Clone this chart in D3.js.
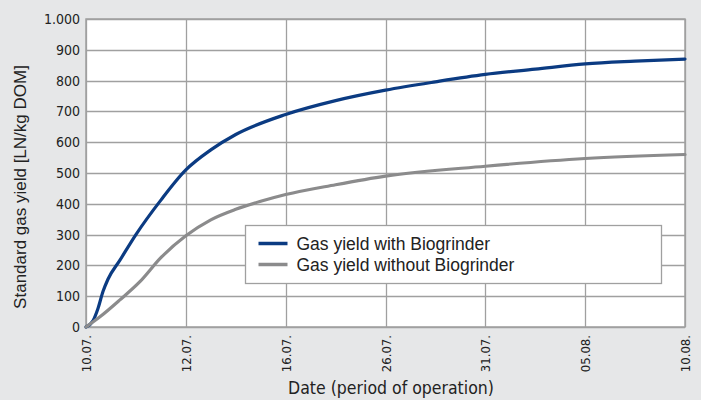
<!DOCTYPE html>
<html>
<head>
<meta charset="utf-8">
<script src="https://cdn.jsdelivr.net/npm/d3@7"></script>
<style>
  body { margin: 0; background: #e6e7e8; }
  svg { display: block; }
</style>
</head>
<body>
<svg id="chart" width="701" height="400"></svg>
<script>
// tick dates on the x axis (equally spaced)
const dates = ["10.07.", "12.07.", "16.07.", "26.07.", "31.07.", "05.08.", "10.08."];
const yTicks = [0, 100, 200, 300, 400, 500, 600, 700, 800, 900, 1000];

// [position along date axis (index), yield]
const withBiogrinder = [
    [0, 0], [0.07, 20], [0.12, 60], [0.17, 115], [0.22, 155], [0.34, 217],
    [0.5, 300], [0.75, 412], [1, 510], [1.25, 575], [1.5, 625], [2, 690],
    [2.5, 735], [3, 769], [3.5, 796], [4, 820], [4.5, 837], [5, 854],
    [5.5, 863], [6, 870]
];
const withoutBiogrinder = [
    [0, 0], [0.14, 33], [0.34, 88], [0.54, 147], [0.75, 225], [1, 296],
    [1.25, 348], [1.5, 382], [1.75, 408], [2, 430], [2.5, 462], [3, 490],
    [4, 522], [5, 547], [6, 560]
];
const seriesNames = ["Gas yield with Biogrinder", "Gas yield without Biogrinder"];
const seriesColors = ["#0b3b82", "#8b8b8c"];

const svg = d3.select("#chart");
const margin = {left: 86, right: 16, top: 19, bottom: 73};
const width = 701 - margin.left - margin.right;
const height = 400 - margin.top - margin.bottom;
const condensed = "'Liberation Sans Narrow', 'DejaVu Sans Condensed', sans-serif";

const x = d3.scaleLinear().domain([0, dates.length - 1]).range([0, width]);
const y = d3.scaleLinear().domain([0, 1000]).range([height, 0]);

const g = svg.append("g").attr("transform", `translate(${margin.left},${margin.top})`);

g.append("rect")
    .attr("width", width).attr("height", height)
    .attr("fill", "#fff");

// grid
g.append("g").selectAll("line")
    .data(yTicks)
    .enter().append("line")
    .attr("x1", 0).attr("x2", width)
    .attr("y1", d => Math.round(y(d)) + 0.5).attr("y2", d => Math.round(y(d)) + 0.5)
    .attr("stroke", "#a0a0a0").attr("stroke-width", 1.3);

g.append("g").selectAll("line")
    .data(dates)
    .enter().append("line")
    .attr("x1", (d, i) => Math.round(x(i)) + 0.5).attr("x2", (d, i) => Math.round(x(i)) + 0.5)
    .attr("y1", 0).attr("y2", height)
    .attr("stroke", "#a0a0a0").attr("stroke-width", 1.3);

g.append("rect")
    .attr("width", width).attr("height", height)
    .attr("fill", "none").attr("stroke", "#a0a0a0").attr("stroke-width", 1.5);

// y tick labels
g.append("g").selectAll("text")
    .data(yTicks)
    .enter().append("text")
    .attr("x", -6)
    .attr("y", d => y(d) + 5)
    .attr("text-anchor", "end")
    .attr("font-family", condensed)
    .attr("font-size", 14)
    .attr("fill", "#222")
    .text(d => d3.format(",")(d).replace(",", "."));

// x tick labels (rotated)
g.append("g").selectAll("text")
    .data(dates)
    .enter().append("text")
    .attr("transform", (d, i) => `translate(${x(i) + 5},${height + 8}) rotate(-90)`)
    .attr("text-anchor", "end")
    .attr("font-family", condensed)
    .attr("font-size", 13)
    .attr("fill", "#222")
    .text(d => d);

// axis titles
svg.append("text")
    .attr("x", 391)
    .attr("y", 394)
    .attr("text-anchor", "middle")
    .attr("font-family", condensed)
    .attr("font-size", 17.5)
    .attr("fill", "#222")
    .text("Date (period of operation)");

svg.append("text")
    .attr("transform", `translate(26,187) rotate(-90)`)
    .attr("text-anchor", "middle")
    .attr("font-family", "'Liberation Sans', Arial, sans-serif")
    .attr("font-size", 17)
    .attr("fill", "#222")
    .text("Standard gas yield [LN/kg DOM]");

// curves
const line = d3.line()
    .x(d => x(d[0]))
    .y(d => y(d[1]))
    .curve(d3.curveMonotoneX);

g.selectAll("path.series")
    .data([withBiogrinder, withoutBiogrinder])
    .enter().append("path")
    .attr("class", "series")
    .attr("d", line)
    .attr("fill", "none")
    .attr("stroke", (d, i) => seriesColors[i])
    .attr("stroke-width", 3.2)
    .attr("stroke-linecap", "round");

// legend
const legend = svg.append("g").attr("transform", "translate(245.5,225.5)");
legend.append("rect")
    .attr("width", 416).attr("height", 58)
    .attr("fill", "#fff").attr("stroke", "#a0a0a0").attr("stroke-width", 1.3);

const item = legend.selectAll("g.item")
    .data(seriesNames)
    .enter().append("g")
    .attr("class", "item")
    .attr("transform", (d, i) => `translate(0,${18 + i * 21})`);

item.append("line")
    .attr("x1", 13).attr("x2", 42)
    .attr("stroke", (d, i) => seriesColors[i])
    .attr("stroke-width", 3.5);

item.append("text")
    .attr("x", 51).attr("y", 6)
    .attr("font-family", "'Liberation Sans', Arial, sans-serif")
    .attr("font-size", 17.5)
    .attr("fill", "#222")
    .text(d => d);
</script>
</body>
</html>
